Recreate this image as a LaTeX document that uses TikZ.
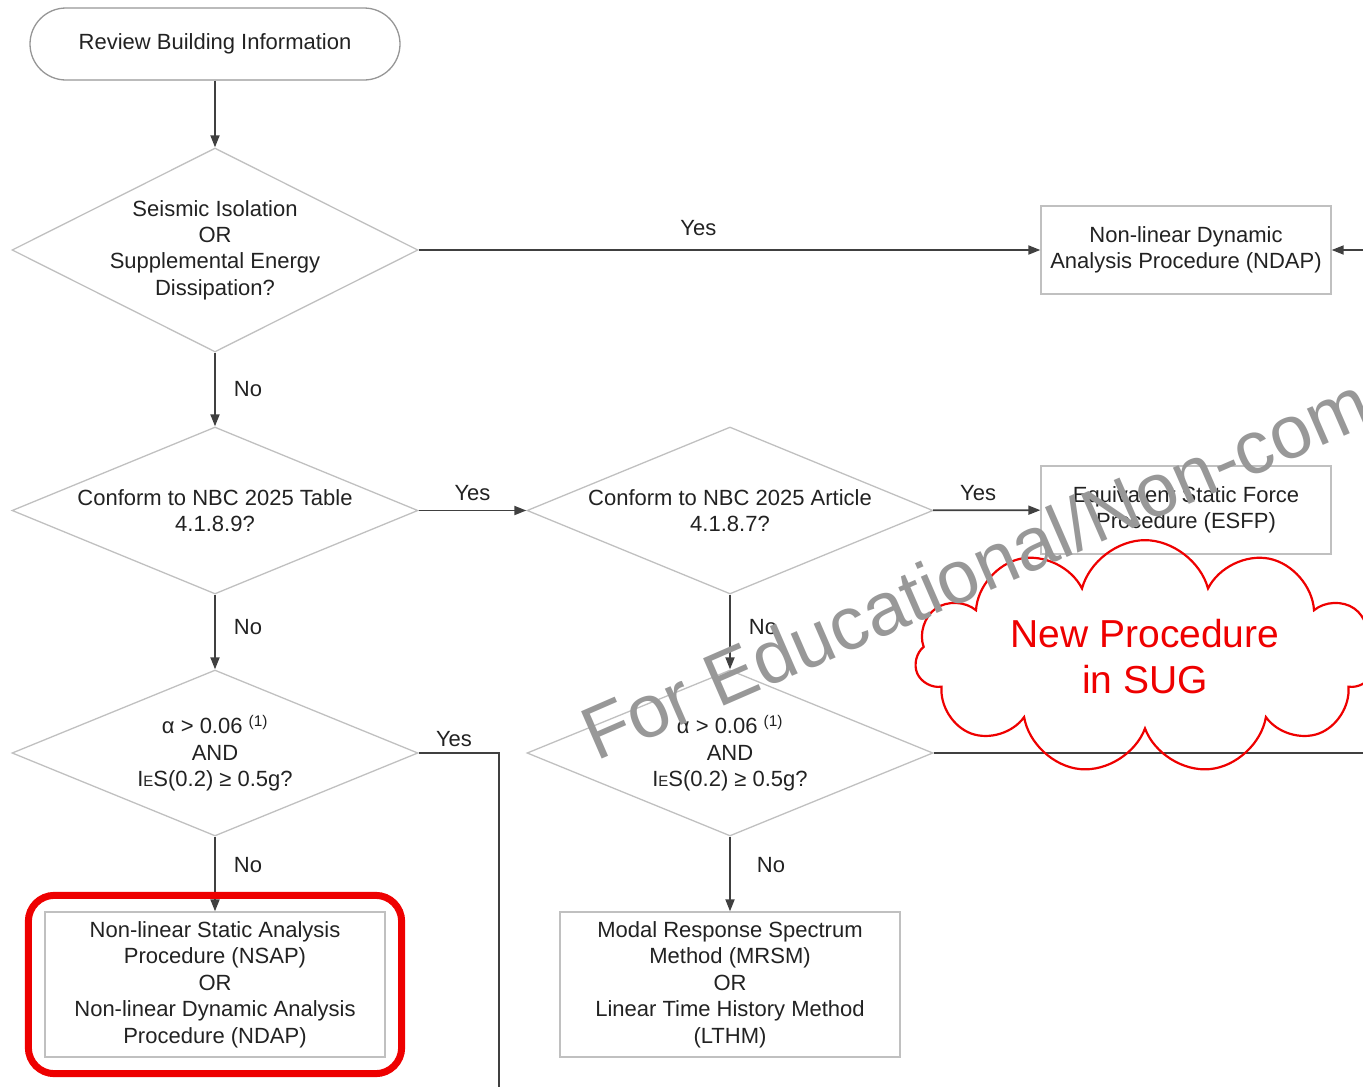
\documentclass[tikz,border=0pt]{standalone}
\usepackage{fontspec}
\setmainfont{Liberation Sans}
\usetikzlibrary{shapes.geometric,shapes.symbols,arrows.meta,fit}
\definecolor{linegray}{RGB}{64,64,64}
\definecolor{edgegray}{RGB}{192,192,192}
\definecolor{capgray}{RGB}{150,150,150}
\definecolor{inkgray}{RGB}{34,34,34}
\definecolor{markgray}{RGB}{152,152,152}
\definecolor{sugred}{RGB}{238,0,0}
\tikzset{
  flowtext/.style={text=inkgray,font=\fontsize{22}{26.4}\selectfont,align=center},
  terminal/.style={draw=capgray,line width=1.3pt,rectangle,rounded corners=36pt,minimum width=370pt,minimum height=72pt},
  decision/.style={draw=edgegray,line width=1.3pt,diamond,inner sep=0pt,minimum width=406pt},
  result/.style={draw=edgegray,line width=1.3pt,rectangle,inner sep=2pt},
  flow/.style={draw=linegray,line width=1.8pt,-{Triangle[length=12pt,width=9pt]}},
  flowline/.style={draw=linegray,line width=1.8pt},
  answer/.style={inner sep=0pt},
  highlight/.style={draw=sugred,line width=7pt,rounded corners=26pt,inner sep=16pt},
  watermark/.style={text=markgray,font=\fontsize{75}{75}\selectfont,rotate=23.5,anchor=base west,inner sep=0pt}
}
\newcommand{\alphatest}{α > 0.06 \textsuperscript{(1)}\\AND\\I{\fontsize{15}{15}\selectfont E}S(0.2) ≥ 0.5g?}
\begin{document}
\begin{tikzpicture}[x=1pt,y=-1pt,every node/.style={flowtext}]
  \useasboundingbox (0,0) rectangle (1363,1087);
  \clip (0,0) rectangle (1363,1087);
  % start and questions
  \node[terminal] (review) at (215,44) {Review Building Information};
  \node[decision,minimum height=204pt] (isol) at (215,250) {};
  \node (isoltxt) at (isol) {Seismic Isolation\\OR\\Supplemental Energy\\Dissipation?};
  \node[decision,minimum height=167pt] (table) at (215,510.5) {};
  \node (tabletxt) at (table) {Conform to NBC 2025 Table\\4.1.8.9?};
  \node[decision,minimum height=167pt] (article) at (730,510.5) {};
  \node (articletxt) at (article) {Conform to NBC 2025 Article\\4.1.8.7?};
  \node[decision,minimum height=166pt] (alphaL) at (215,753) {};
  \node (alphaLtxt) at (alphaL) {\alphatest};
  \node[decision,minimum height=166pt] (alphaR) at (730,753) {};
  \node (alphaRtxt) at (alphaR) {\alphatest};
  % procedures
  \node[result,minimum width=290pt,minimum height=88pt] (ndap) at (1186,250) {Non-linear Dynamic\\Analysis Procedure (NDAP)};
  \node[result,minimum width=290pt,minimum height=88pt] (esfp) at (1186,510) {Equivalent Static Force\\Procedure (ESFP)};
  \node[result,minimum width=340pt,minimum height=145pt] (nsap) at (215,984.5) {Non-linear Static Analysis\\Procedure (NSAP)\\OR\\Non-linear Dynamic Analysis\\Procedure (NDAP)};
  \node[result,minimum width=340pt,minimum height=145pt] (mrsm) at (730,984.5) {Modal Response Spectrum\\Method (MRSM)\\OR\\Linear Time History Method\\(LTHM)};
  \coordinate (ndapin) at (1363,250);
  \coordinate (alphaRout) at (1363,753);
  \coordinate (alphaLbend) at (499,753);
  \coordinate (alphaLout) at (499,1087);

  \draw[flow] (review) -- (isol);
  \draw[flow] (isol) -- node[answer,pos=0.45,above=13pt] (yes1) {Yes} (ndap);
  \draw[flow] (ndapin) -- (ndap);
  \draw[flow] (isol) -- node[answer,midway,right=18pt] (no1) {No} (table);
  \draw[flow] (table) -- node[answer,pos=0.5,above=9pt] (yes2) {Yes} (article);
  \draw[flow] (article) -- node[answer,pos=0.42,above=9pt] (yes3) {Yes} (esfp);
  \draw[flow] (table) -- node[answer,pos=0.43,right=18pt] (no2) {No} (alphaL);
  \draw[flow] (article) -- node[answer,pos=0.43,right=18pt] (no3) {No} (alphaR);
  \draw[flowline] (alphaL.east) -- node[answer,pos=0.44,above=5pt] (yes4) {Yes} (alphaLbend) -- (alphaLout);
  \draw[flowline] (alphaR.east) -- (alphaRout);
  \draw[flow] (alphaL) -- node[answer,pos=0.38,right=18pt] (no4) {No} (nsap);
  \draw[flow] (alphaR) -- node[answer,pos=0.38,right=26pt] (no5) {No} (mrsm);

  % marks
  \node[highlight,fit=(nsap)] (focus) {};
  \node[cloud,draw=sugred,line width=2.2pt,cloud puffs=11,aspect=2.5,minimum width=460pt,minimum height=176pt,text=sugred,font=\fontsize{39}{46}\selectfont] (sug) at (1145,657) {New Procedure\\in SUG};
  \node[watermark] (wm) at (596,762) {For Educational/Non-com};
\end{tikzpicture}
\end{document}
